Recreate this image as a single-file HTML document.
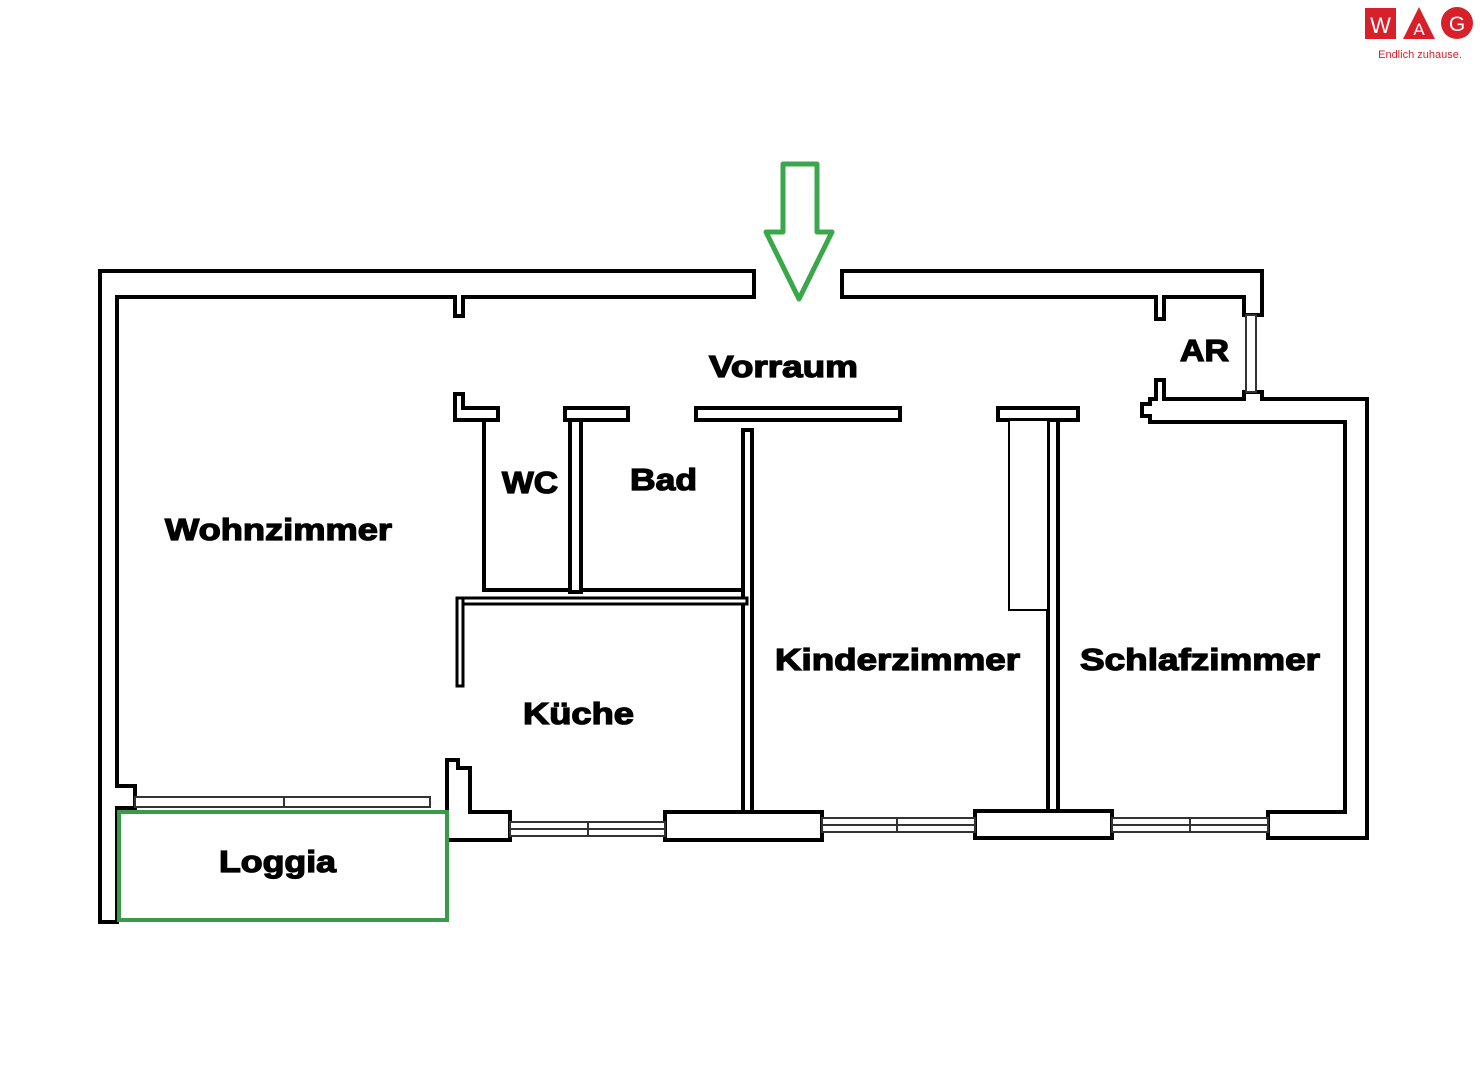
<!DOCTYPE html>
<html><head><meta charset="utf-8"><style>
html,body{margin:0;padding:0;background:#fff;}
svg{display:block}
text{font-family:"Liberation Sans",sans-serif;font-weight:bold;}
</style></head><body>
<svg width="1480" height="1080" viewBox="0 0 1480 1080" xmlns="http://www.w3.org/2000/svg">
<rect width="1480" height="1080" fill="#fff"/>
<!-- logo -->
<rect x="1365" y="8" width="31" height="31" fill="#d7202a"/>
<text x="1380.5" y="33" font-size="22" fill="#fff" text-anchor="middle" style="font-weight:normal">W</text>
<polygon points="1403,39 1419,7 1435,39" fill="#d7202a"/>
<text x="1419" y="35" font-size="17" fill="#fff" text-anchor="middle" style="font-weight:normal">A</text>
<circle cx="1457" cy="23" r="16" fill="#d7202a"/>
<text x="1457" y="31" font-size="21" fill="#fff" text-anchor="middle" style="font-weight:normal">G</text>
<text x="1420" y="58" font-size="11" fill="#d7202a" text-anchor="middle" style="font-weight:normal">Endlich zuhause.</text>

<g fill="#fff" stroke="#000" stroke-width="4" stroke-linejoin="miter">
<polygon points="100,271 754,271 754,297 463,297 463,316 455,316 455,297 117,297 117,786 135,786 135,808 117,808 117,922 100,922"/>
<polygon points="842,271 1262,271 1262,315 1244,315 1244,297 1164,297 1164,319 1156,319 1156,297 842,297"/>
<polygon points="1244,392 1262,392 1262,399 1367,399 1367,838 1268,838 1268,812 1345,812 1345,422 1150,422 1150,416 1142,416 1142,404 1150,404 1150,399 1156,399 1156,380 1164,380 1164,399 1244,399"/>
<polygon points="455,394 463,394 463,408 498,408 498,420 455,420"/>
<rect x="565" y="408" width="63" height="12"/>
<rect x="696" y="408" width="204" height="12"/>
<rect x="998" y="408" width="80" height="12"/>
<rect x="482" y="420" width="4" height="172" fill="#000" stroke="none"/>
<rect x="482" y="588" width="265" height="4" fill="#000" stroke="none"/>
<rect x="570" y="420" width="11" height="172"/>
<rect x="743" y="430" width="9" height="382"/>
<rect x="457" y="598" width="290" height="6" stroke-width="3"/>
<rect x="457" y="598" width="6" height="88" stroke-width="3"/>
<rect x="1048" y="420" width="10" height="392"/>
<rect x="1009" y="420" width="39" height="190" stroke-width="2"/>
<polygon points="447,768 447,760 458,760 458,768 470,768 470,812 510,812 510,840 447,840 447,786"/>
<rect x="665" y="812" width="157" height="28"/>
<rect x="975" y="811" width="137" height="27"/>
</g>
<g fill="#fff" stroke="#333" stroke-width="2">
<rect x="135" y="797" width="295" height="10"/>
<rect x="510" y="822" width="155" height="14"/>
<line x1="510" y1="829" x2="665" y2="829"/><line x1="588" y1="822" x2="588" y2="836"/>
<rect x="822" y="818" width="153" height="14"/>
<line x1="822" y1="825" x2="975" y2="825"/><line x1="897" y1="818" x2="897" y2="832"/>
<rect x="1112" y="818" width="156" height="14"/>
<line x1="1112" y1="825" x2="1268" y2="825"/><line x1="1190" y1="818" x2="1190" y2="832"/>
<rect x="1246" y="315" width="10" height="77"/>
<line x1="284" y1="797" x2="284" y2="807"/>
</g>
<rect x="119" y="812" width="328" height="108" fill="none" stroke="#3a9a4a" stroke-width="4"/>
<polygon points="783,164 817,164 817,232 832,232 799,299 766,232 783,232" fill="#fff" stroke="#3aa84a" stroke-width="5" stroke-linejoin="round"/>
<g fill="#000" stroke="#000" stroke-width="1.3" font-size="31" lengthAdjust="spacingAndGlyphs">
<text x="709" y="377" textLength="149" lengthAdjust="spacingAndGlyphs">Vorraum</text>
<text x="1180" y="361" textLength="49" lengthAdjust="spacingAndGlyphs">AR</text>
<text x="502" y="493" textLength="56" lengthAdjust="spacingAndGlyphs">WC</text>
<text x="630" y="490" textLength="67" lengthAdjust="spacingAndGlyphs">Bad</text>
<text x="165" y="540" textLength="227" lengthAdjust="spacingAndGlyphs">Wohnzimmer</text>
<text x="523" y="724" textLength="111" lengthAdjust="spacingAndGlyphs">Küche</text>
<text x="775" y="670" textLength="245" lengthAdjust="spacingAndGlyphs">Kinderzimmer</text>
<text x="1080" y="670" textLength="240" lengthAdjust="spacingAndGlyphs">Schlafzimmer</text>
<text x="219" y="872" textLength="117" lengthAdjust="spacingAndGlyphs">Loggia</text>
</g>
</svg>
</body></html>
